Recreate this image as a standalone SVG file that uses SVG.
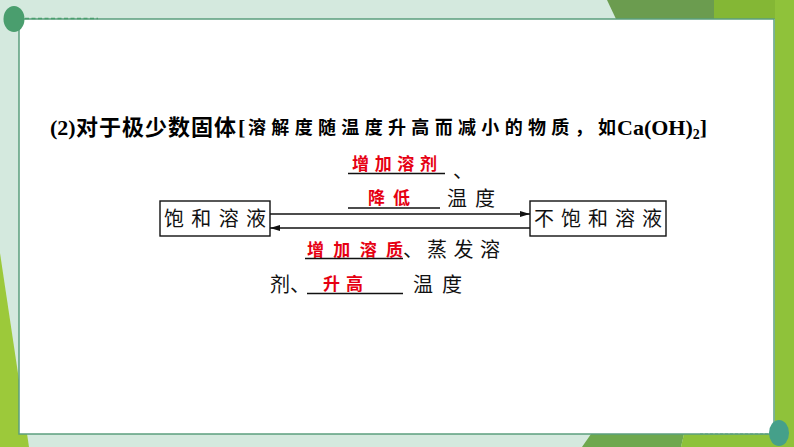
<svg xmlns="http://www.w3.org/2000/svg" width="794" height="447" viewBox="0 0 794 447">
<style>
.blk{font-family:"Noto Sans CJK SC","Noto Sans",sans-serif;font-size:20px;fill:#111}
.red{font-family:"Noto Sans CJK SC",sans-serif;font-size:17px;font-weight:700;fill:#e60012}
.ser{font-family:"Liberation Serif",serif;font-weight:700;font-size:22px;fill:#000}
.ul{stroke:#111;stroke-width:1.6}
.box{fill:#fff;stroke:#111;stroke-width:1.4}
.conn{stroke:#111;stroke-width:1.4;fill:none}
</style>
<defs>
<marker id="ah" viewBox="0 0 10 6" refX="10" refY="3" markerWidth="10" markerHeight="6" markerUnits="userSpaceOnUse" orient="auto">
<path d="M0,0 L10,3 L0,6 Z" fill="#111"/>
</marker>
</defs>
<g id="background">
<rect x="0" y="0" width="794" height="447" fill="#d4e9de"/>
<polygon points="607,0 714,0 714,19 616,19" fill="#6b9c4f"/>
<polygon points="714,0 775,0 775,19 714,19" fill="#84b735"/>
<rect x="775" y="0" width="19" height="447" fill="#8fc23a"/>
<polygon points="0,253 29,447 0,447" fill="#9cc93a"/>
<polygon points="582,447 591,434 684,434 681,447" fill="#6ea84e"/>
<polygon points="681,447 684,434 775,434 775,447" fill="#8dc23a"/>
<rect x="19" y="19" width="755" height="415" fill="#fff" stroke="#5b9f7e" stroke-width="1.5"/>
<line x1="25" y1="18.5" x2="98" y2="18.5" stroke="#4a9e6e" stroke-width="1.5" stroke-dasharray="4,2.5"/>
<ellipse cx="14" cy="19" rx="10.5" ry="13" fill="#4a9e6e"/>
<line x1="700" y1="434" x2="770" y2="434" stroke="#5b9f7e" stroke-width="1.2" stroke-dasharray="3,2"/>
<ellipse cx="779" cy="433" rx="10" ry="13" fill="#45a08a"/>
</g>
<g id="title">
<text class="ser" x="50" y="135">(2)</text>
<text x="76" y="135" font-family="'Noto Sans CJK SC',sans-serif" font-weight="700" font-size="22" fill="#000" textLength="160" lengthAdjust="spacing">对于极少数固体</text>
<text class="ser" x="238" y="135">[</text>
<text x="248" y="134" font-family="'Noto Sans CJK SC',sans-serif" font-weight="700" font-size="18" fill="#000" textLength="368" lengthAdjust="spacing">溶解度随温度升高而减小的物质，如</text>
<text class="ser" x="617" y="135">Ca(OH)<tspan font-size="14" dy="4">2</tspan><tspan dy="-4">]</tspan></text>
</g>
<g id="node-saturated">
<rect class="box" x="160" y="201" width="110" height="35"/>
<text class="blk" x="164" y="226" textLength="102" lengthAdjust="spacing">饱和溶液</text>
</g>
<g id="node-unsaturated">
<rect class="box" x="530" y="201" width="136" height="35"/>
<text class="blk" x="534" y="226" textLength="128" lengthAdjust="spacing">不饱和溶液</text>
</g>
<g id="connectors">
<line class="conn" x1="270" y1="214" x2="530" y2="214" marker-end="url(#ah)"/>
<line class="conn" x1="530" y1="228" x2="270" y2="228" marker-end="url(#ah)"/>
</g>
<g id="label-top">
<text class="red" x="352" y="170" textLength="85" lengthAdjust="spacing">增加溶剂</text>
<line class="ul" x1="348" y1="173.5" x2="445" y2="173.5"/>
<text class="blk" x="453" y="178" font-size="15">、</text>
<text class="red" x="368" y="204" textLength="42" lengthAdjust="spacing">降低</text>
<line class="ul" x1="348" y1="208" x2="440" y2="208"/>
<text class="blk" x="447" y="206" textLength="48" lengthAdjust="spacing">温度</text>
</g>
<g id="label-bottom">
<text class="red" x="307" y="256" textLength="96" lengthAdjust="spacing">增加溶质</text>
<line class="ul" x1="305" y1="258.5" x2="403" y2="258.5"/>
<text class="blk" x="403" y="257">、</text>
<text class="blk" x="427" y="257" textLength="73" lengthAdjust="spacing">蒸发溶</text>
<text class="blk" x="270" y="292">剂、</text>
<text class="red" x="323" y="290" textLength="40" lengthAdjust="spacing">升高</text>
<line class="ul" x1="307" y1="293.5" x2="403" y2="293.5"/>
<text class="blk" x="413" y="292" textLength="49" lengthAdjust="spacing">温度</text>
</g>
</svg>
